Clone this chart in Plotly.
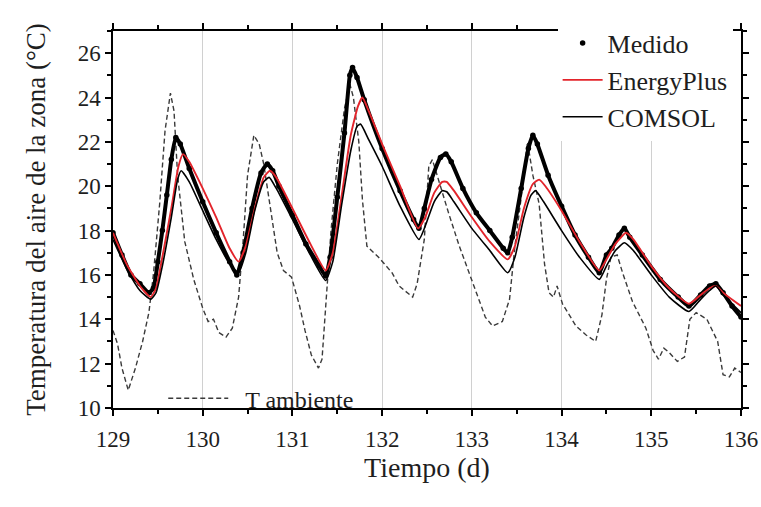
import plotly.graph_objects as go

# ---- Data ----
t_medido = [129.00, 129.10, 129.20, 129.30, 129.40, 129.45, 129.50, 129.55, 129.60, 129.65,
            129.70, 129.75, 129.85, 130.00, 130.15, 130.30, 130.38, 130.45, 130.55, 130.65,
            130.72, 130.78, 130.85, 131.00, 131.15, 131.30, 131.37, 131.42, 131.50, 131.58,
            131.64, 131.67, 131.72, 131.80, 132.00, 132.20, 132.35, 132.41, 132.47, 132.55,
            132.65, 132.71, 132.77, 132.90, 133.05, 133.20, 133.35, 133.40, 133.45, 133.55,
            133.63, 133.68, 133.73, 133.85, 134.00, 134.15, 134.30, 134.42, 134.50, 134.56,
            134.64, 134.70, 134.76, 134.90, 135.10, 135.30, 135.42, 135.55, 135.65, 135.72,
            135.80, 135.90, 136.00]
medido = [17.9, 16.9, 16.0, 15.6, 15.2, 15.4, 16.6, 18.0, 19.6, 21.2,
          22.2, 21.9, 20.8, 19.3, 17.9, 16.6, 16.0, 17.0, 19.0, 20.6,
          21.0, 20.7, 20.0, 18.7, 17.4, 16.4, 15.95, 16.8, 19.5, 22.4,
          25.0, 25.35, 24.9, 23.9, 21.7, 19.8, 18.5, 18.1, 19.0, 20.3,
          21.3, 21.45, 21.1, 19.9, 18.8, 18.0, 17.2, 17.0, 17.7, 19.9,
          21.7, 22.3, 21.9, 20.5, 19.1, 17.8, 16.8, 16.1, 16.9, 17.2,
          17.8, 18.1, 17.7, 16.9, 15.8, 15.0, 14.6, 15.1, 15.5, 15.6,
          15.2, 14.6, 14.1]

t_eplus = [129.00, 129.15, 129.30, 129.42, 129.48, 129.55, 129.65, 129.73, 129.78, 129.85,
           130.00, 130.15, 130.30, 130.40, 130.48, 130.58, 130.68, 130.75, 130.82, 131.00,
           131.20, 131.37, 131.45, 131.55, 131.65, 131.73, 131.78, 131.85, 132.00, 132.20,
           132.40, 132.48, 132.58, 132.67, 132.72, 132.80, 133.00, 133.20, 133.40, 133.48,
           133.58, 133.68, 133.75, 133.82, 134.00, 134.20, 134.42, 134.50, 134.60, 134.72,
           134.80, 135.00, 135.20, 135.42, 135.55, 135.65, 135.72, 135.80, 136.00]
eplus = [17.9, 16.5, 15.5, 15.0, 15.4, 16.8, 19.0, 20.9, 21.45, 21.1,
         19.9, 18.6, 17.2, 16.6, 17.3, 19.0, 20.4, 20.7, 20.4, 19.0,
         17.4, 16.2, 17.0, 19.6, 22.3, 23.6, 24.0, 23.4, 21.9, 20.0,
         18.1, 18.6, 19.7, 20.2, 20.2, 19.8, 18.6, 17.5, 16.7, 17.3,
         19.0, 20.1, 20.3, 20.0, 18.9, 17.5, 16.2, 16.7, 17.4, 17.9,
         17.6, 16.4, 15.4, 14.7, 15.1, 15.4, 15.5, 15.2, 14.6]

t_comsol = [129.00, 129.15, 129.30, 129.42, 129.48, 129.55, 129.65, 129.72, 129.76, 129.85,
            130.00, 130.15, 130.30, 130.40, 130.48, 130.58, 130.68, 130.74, 130.82, 131.00,
            131.20, 131.37, 131.45, 131.55, 131.65, 131.72, 131.76, 131.85, 132.00, 132.20,
            132.41, 132.48, 132.58, 132.67, 132.72, 132.80, 133.00, 133.20, 133.40, 133.48,
            133.58, 133.66, 133.71, 133.80, 134.00, 134.20, 134.42, 134.50, 134.60, 134.70,
            134.80, 135.00, 135.20, 135.42, 135.55, 135.65, 135.72, 135.80, 136.00]
comsol = [17.6, 16.3, 15.3, 14.9, 15.2, 16.4, 18.6, 20.3, 20.7, 20.2,
          18.9, 17.6, 16.5, 16.1, 17.0, 18.9, 20.2, 20.4, 19.9, 18.5,
          16.9, 15.75, 16.6, 19.2, 21.6, 22.7, 22.8, 22.1, 20.9, 19.1,
          17.6, 18.2, 19.3, 19.8, 19.75, 19.3, 18.1, 17.1, 16.1, 16.8,
          18.6, 19.6, 19.8, 19.3, 18.0, 16.8, 15.8, 16.4, 17.1, 17.45,
          17.1, 16.0, 15.0, 14.35, 14.9, 15.3, 15.5, 15.1, 14.3]

t_amb = [129.00, 129.05, 129.10, 129.17, 129.25, 129.33, 129.40, 129.45, 129.52, 129.58,
         129.64, 129.68, 129.72, 129.80, 129.90, 130.00, 130.06, 130.12, 130.18, 130.26,
         130.33, 130.40, 130.45, 130.50, 130.57, 130.63, 130.68, 130.75, 130.83, 130.90,
         130.99, 131.08, 131.14, 131.21, 131.29, 131.33, 131.37, 131.43, 131.50, 131.58,
         131.64, 131.68, 131.74, 131.78, 131.83, 131.96, 132.11, 132.19, 132.34, 132.39,
         132.47, 132.52, 132.56, 132.66, 132.74, 132.86, 133.00, 133.15, 133.23, 133.34,
         133.42, 133.48, 133.55, 133.62, 133.68, 133.75, 133.81, 133.86, 133.91, 133.95,
         134.01, 134.16, 134.27, 134.38, 134.45, 134.50, 134.55, 134.62, 134.68, 134.79,
         134.94, 135.02, 135.08, 135.14, 135.20, 135.29, 135.37, 135.43, 135.50, 135.62,
         135.74, 135.80, 135.87, 135.93, 136.00]
amb = [13.5, 12.9, 11.8, 10.8, 11.8, 13.0, 14.3, 16.0, 19.2, 22.5,
       24.2, 23.4, 20.5, 17.5, 15.8, 14.5, 13.9, 14.0, 13.4, 13.2,
       13.6, 15.0, 17.5, 20.5, 22.3, 21.9, 21.0, 19.2, 17.0, 16.2,
       15.9, 14.6, 13.5, 12.4, 11.8, 12.2, 14.5, 18.0, 21.0, 23.5,
       24.6, 24.0, 22.0, 19.4, 17.3, 16.8, 16.1, 15.5, 15.0, 15.6,
       17.6, 20.9, 21.2, 19.8, 18.8, 17.3, 15.8, 14.1, 13.7, 13.9,
       14.9, 17.3, 19.5, 22.0, 20.5, 19.2, 16.5, 15.2, 15.0, 15.5,
       14.7, 13.7, 13.3, 13.0, 14.2, 15.8, 16.8, 16.9, 16.1, 14.8,
       13.6, 12.6, 12.2, 12.7, 12.5, 12.1, 12.3, 14.0, 14.3, 14.0,
       13.0, 11.5, 11.4, 11.8, 11.6]

x_ticks = [129, 130, 131, 132, 133, 134, 135, 136]
y_ticks = [10, 12, 14, 16, 18, 20, 22, 24, 26]

FONT = "Liberation Serif, Times New Roman, serif"
TXT = "#1e1e1e"

fig = go.Figure()

fig.add_trace(go.Scatter(x=t_amb, y=amb, mode="lines", name="\u00a0\u00a0T ambiente",
                         line=dict(color="#3a3a3a", width=1.4, dash="5px,3px"),
                         legend="legend2"))
fig.add_trace(go.Scatter(x=t_medido, y=medido, mode="lines", showlegend=False,
                         line=dict(color="black", width=4, shape="spline", smoothing=0.5),
                         hoverinfo="skip"))
fig.add_trace(go.Scatter(x=t_medido, y=medido, mode="markers", name="Medido",
                         marker=dict(color="black", size=5.5)))
fig.add_trace(go.Scatter(x=t_eplus, y=eplus, mode="lines", name="EnergyPlus",
                         line=dict(color="#e3242b", width=1.9, shape="spline", smoothing=0.5)))
fig.add_trace(go.Scatter(x=t_comsol, y=comsol, mode="lines", name="COMSOL",
                         line=dict(color="black", width=1.6, shape="spline", smoothing=0.5)))

axis_common = dict(showline=True, linecolor="black", linewidth=1.5, mirror="ticks",
                   ticks="outside", ticklen=6, tickwidth=1.5, tickcolor="black",
                   zeroline=False, automargin=False,
                   tickfont=dict(family=FONT, size=23, color=TXT))

fig.update_xaxes(range=[129, 136], tickvals=x_ticks,
                 showgrid=True, gridcolor="#d0d0d0", gridwidth=1,
                 ticklabelstandoff=4,
                 minor=dict(ticks="outside", ticklen=4, dtick=0.5, tick0=129,
                            tickcolor="black", showgrid=False),
                 title=dict(text="Tiempo (d)", font=dict(family=FONT, size=28, color=TXT),
                            standoff=2),
                 **axis_common)
fig.update_yaxes(range=[10, 27], tickvals=y_ticks, showgrid=False,
                 minor=dict(ticks="outside", ticklen=4, dtick=1, tick0=10,
                            tickcolor="black", showgrid=False),
                 title=dict(text="Temperatura del aire de la zona (°C)",
                            font=dict(family=FONT, size=27, color=TXT), standoff=24),
                 **axis_common)

fig.update_layout(
    width=761, height=507,
    margin=dict(l=113, r=20, t=31, b=99),
    paper_bgcolor="white", plot_bgcolor="white",
    font=dict(family=FONT, color=TXT),
    legend=dict(x=0.708, y=1.03, xanchor="left", yanchor="top",
                bgcolor="white", borderwidth=0, itemwidth=40,
                font=dict(family=FONT, size=26, color=TXT),
                tracegroupgap=0),
    legend2=dict(x=0.08, y=-0.035, xanchor="left", yanchor="bottom",
                 bgcolor="rgba(255,255,255,0)", borderwidth=0, itemwidth=60,
                 font=dict(family=FONT, size=24, color=TXT)),
    shapes=[dict(type="rect", xref="paper", yref="paper", x0=0.07, x1=0.40,
                 y0=0.0, y1=0.075, layer="between", fillcolor="white",
                 line=dict(width=0))],
)

fig.write_html("out.html")
